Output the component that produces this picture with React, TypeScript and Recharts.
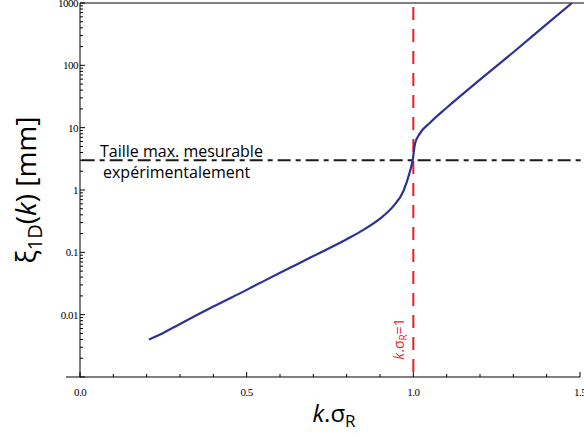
import React from 'react';
import { LineChart, Line, XAxis, YAxis, ReferenceLine } from 'recharts';

// k.sigma_R values
const kValues = [0.207, 0.25, 0.3, 0.4, 0.5, 0.6, 0.7, 0.8, 0.85, 0.9, 0.94, 0.97, 0.99, 0.998, 1.005, 1.02, 1.05, 1.1, 1.2, 1.3, 1.4, 1.476];
// xi_1D(k) in mm
const xiValues = [0.004, 0.0051, 0.0071, 0.0135, 0.025, 0.047, 0.087, 0.162, 0.229, 0.347, 0.55, 0.955, 2.0, 3.0, 5.5, 8.1, 12.0, 20.9, 59, 162, 457, 1000];

const yDecades = [0.001, 0.01, 0.1, 1, 10, 100, 1000];
const yMinorSteps = [2, 3, 4, 5, 6, 7, 8, 9];
const yLabels: Record<string, string> = { '0.01': '0.01', '0.1': '0.1', '1': '1', '10': '10', '100': '100', '1000': '1000' };

const xTicks = [0, 0.1, 0.2, 0.3, 0.4, 0.5, 0.6, 0.7, 0.8, 0.9, 1.0, 1.1, 1.2, 1.3, 1.4, 1.5];
const xLabels: Record<string, string> = { '0': '0.0', '0.5': '0.5', '1': '1.0', '1.5': '1.5' };

const limitValue = 3; // taille max. mesurable
const resonance = 1;

const chartData = kValues.map((k, i) => ({ k, xi: xiValues[i] }));

const yTicks: number[] = [];
yDecades.forEach((d, i) => {
    yTicks.push(d);
    if (i < yDecades.length - 1) yMinorSteps.forEach((m) => yTicks.push(parseFloat((d * m).toPrecision(3))));
});

const serif = '"Liberation Serif", "Times New Roman", serif';
const sans = '"Open Sans", "Noto Sans", sans-serif';

const YTick = (props: any) => {
    const { x, y, payload } = props;
    const v = payload.value;
    const lg = Math.log10(v);
    const major = Math.abs(lg - Math.round(lg)) < 1e-6;
    const label = yLabels[String(v)];
    return (
        <g>
            <line x1={x} x2={x + (major ? 5 : 3)} y1={y} y2={y} stroke="#000" strokeWidth={1} />
            {label && (
                <text x={x - 2} y={y} dy={4} textAnchor="end" fontFamily={serif} fontSize={11} fill="#000" letterSpacing={-0.5}>
                    {label}
                </text>
            )}
        </g>
    );
};

const XTick = (props: any) => {
    const { x, y, payload } = props;
    const label = xLabels[String(payload.value)];
    return (
        <g>
            <line x1={x} x2={x} y1={y} y2={y - (label ? 5 : 3)} stroke="#000" strokeWidth={1} />
            {label && (
                <text x={x} y={y} dy={19} textAnchor="middle" fontFamily={serif} fontSize={11} fill="#000" letterSpacing={-0.5}>
                    {label}
                </text>
            )}
        </g>
    );
};

export default function App() {
    return (
        <div style={{ position: 'absolute', left: 0, top: 0, width: 584, height: 438, background: '#fff' }}>
            <LineChart width={584} height={438} data={chartData} margin={{ top: 3, right: 4, left: 20, bottom: 21 }}>
                <XAxis
                    dataKey="k"
                    type="number"
                    domain={[0, 1.5]}
                    ticks={xTicks}
                    interval={0}
                    tick={<XTick />}
                    tickLine={false}
                    tickSize={0}
                    tickMargin={0}
                    height={40}
                    axisLine={{ stroke: '#000', strokeWidth: 1 }}
                    allowDataOverflow
                />
                <YAxis
                    type="number"
                    scale="log"
                    domain={[0.001, 1000]}
                    ticks={yTicks}
                    interval={0}
                    tick={<YTick />}
                    tickLine={false}
                    tickSize={0}
                    tickMargin={0}
                    width={60}
                    axisLine={{ stroke: '#000', strokeWidth: 1 }}
                    allowDataOverflow
                />
                <ReferenceLine segment={[{ x: -0.042, y: 0.001 }, { x: 0, y: 0.001 }]} stroke="#000" strokeWidth={1} ifOverflow="visible" />
                <ReferenceLine segment={[{ x: 0, y: 1000 }, { x: 1.52, y: 1000 }]} stroke="#000" strokeWidth={1} ifOverflow="visible" />
                <ReferenceLine
                    segment={[{ x: 0.005, y: limitValue }, { x: 1.52, y: limitValue }]}
                    stroke="#1a1a1a"
                    strokeWidth={2}
                    strokeDasharray="13 5 5 5"
                    ifOverflow="visible"
                />
                <ReferenceLine x={resonance} stroke="#ed1c24" strokeWidth={2} strokeDasharray="13 9" strokeDashoffset={-5} />
                <Line
                    type="monotone"
                    dataKey="xi"
                    stroke="#2e3192"
                    strokeWidth={2.2}
                    dot={false}
                    activeDot={false}
                    isAnimationActive={false}
                />
            </LineChart>
            <svg width={584} height={438} style={{ position: 'absolute', left: 0, top: 0, pointerEvents: 'none' }}>
                <text transform="translate(36,190) rotate(-90)" textAnchor="middle" fontFamily={sans} fontSize={28} fill="#000">
                    <tspan>ξ</tspan>
                    <tspan fontSize={20} dy={6}>1D</tspan>
                    <tspan dy={-6}>(</tspan>
                    <tspan fontStyle="italic">k</tspan>
                    <tspan>) [mm]</tspan>
                </text>
                <text x={334} y={422} textAnchor="middle" fontFamily={sans} fontSize={24} fill="#000">
                    <tspan fontStyle="italic">k</tspan>
                    <tspan>.σ</tspan>
                    <tspan fontSize={17} dy={5}>R</tspan>
                </text>
                <text transform="translate(404,339) rotate(-90)" textAnchor="middle" fontFamily={sans} fontSize={14} fill="#ed1c24">
                    <tspan fontStyle="italic">k</tspan>
                    <tspan>.σ</tspan>
                    <tspan fontSize={10} dy={3}>R</tspan>
                    <tspan dy={-3}>=1</tspan>
                </text>
                <text x={100} y={157} fontFamily={sans} fontSize={16} fill="#000">Taille max. mesurable</text>
                <text x={103} y={178} fontFamily={sans} fontSize={16} fill="#000">expérimentalement</text>
            </svg>
        </div>
    );
}
